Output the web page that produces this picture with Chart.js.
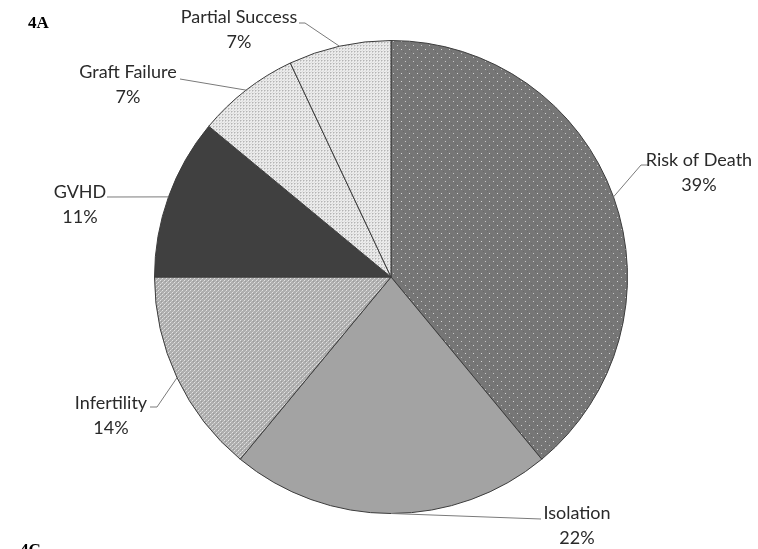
<!DOCTYPE html>
<html>
<head>
<meta charset="utf-8">
<script src="https://cdn.jsdelivr.net/npm/chart.js@4"></script>
<style>
  html, body { margin: 0; padding: 0; background: #ffffff; }
  #wrap { position: relative; width: 758px; height: 549px; }
  canvas { display: block; }
</style>
</head>
<body>
<div id="wrap"><canvas id="pie" width="758" height="549"></canvas></div>
<script>
// Reasons reported (share of responses, %)
const categories = ['Risk of Death', 'Isolation', 'Infertility', 'GVHD', 'Graft Failure', 'Partial Success'];
const shares = [39, 22, 14, 11, 7, 7];
const pctLabels = ['39%', '22%', '14%', '11%', '7%', '7%'];

// Small tiled fills in the style of an office-chart pattern fill
function tile(w, h, base, pixels) {
  const c = document.createElement('canvas');
  c.width = w; c.height = h;
  const g = c.getContext('2d');
  g.fillStyle = base; g.fillRect(0, 0, w, h);
  pixels.forEach(([x, y, col]) => { g.fillStyle = col; g.fillRect(x, y, 1, 1); });
  return g.createPattern(c, 'repeat');
}
const ctx0 = document.getElementById('pie').getContext('2d');
const fills = [
  // dark dotted
  tile(8, 8, '#767676', [[1, 1, '#d2d2d2'], [5, 5, '#c4c4c4'], [3, 3, '#6a6a6a'], [7, 7, '#6a6a6a']]),
  // solid mid grey
  '#a3a3a3',
  // light grey checker
  tile(4, 4, '#aeaeae', [[0, 0, '#e2e2e2'], [2, 2, '#e2e2e2'], [1, 3, '#c8c8c8'], [3, 1, '#c8c8c8'], [1, 1, '#9c9c9c']]),
  // dark solid
  '#404040',
  // very light fine grid
  tile(3, 3, '#ececec', [[0, 0, '#b4b4b4'], [1, 0, '#d0d0d0'], [0, 1, '#d0d0d0'], [2, 2, '#dedede']]),
  tile(3, 3, '#ececec', [[0, 0, '#b4b4b4'], [1, 0, '#d0d0d0'], [0, 1, '#d0d0d0'], [2, 2, '#dedede']])
];

// Text anchor and leader routing for each slice's outside label
const labelLayout = [
  { tx: 699, ty: 160, ex: 641, ey: 165, hx: 648 },
  { tx: 577, ty: 513, ex: 541, ey: 519, hx: 541 },
  { tx: 111, ty: 403, ex: 157, ey: 407, hx: 150 },
  { tx: 80,  ty: 192, ex: 107, ey: 197, hx: 107 },
  { tx: 128, ty: 72,  ex: 180, ey: 79,  hx: 180 },
  { tx: 239, ty: 17,  ex: 305, ey: 23,  hx: 299 }
];

const outsideLabels = {
  id: 'outsideLabels',
  afterDatasetsDraw(chart) {
    const ctx = chart.ctx;
    const meta = chart.getDatasetMeta(0);
    ctx.save();
    meta.data.forEach((arc, i) => {
      const p = arc.getProps(['x', 'y', 'startAngle', 'endAngle', 'outerRadius'], true);
      const mid = (p.startAngle + p.endAngle) / 2;
      const ax = p.x + Math.cos(mid) * p.outerRadius;
      const ay = p.y + Math.sin(mid) * p.outerRadius;
      const L = labelLayout[i];
      ctx.strokeStyle = '#7a7a7a';
      ctx.lineWidth = 1;
      ctx.beginPath();
      ctx.moveTo(ax, ay);
      ctx.lineTo(L.ex, L.ey);
      ctx.lineTo(L.hx, L.ey);
      ctx.stroke();
      ctx.fillStyle = '#2a2a2a';
      ctx.font = '18px Lato';
      ctx.textAlign = 'center';
      ctx.textBaseline = 'middle';
      ctx.fillText(categories[i], L.tx, L.ty);
      ctx.fillText(pctLabels[i], L.tx, L.ty + 25);
    });
    // panel letters
    ctx.fillStyle = '#000000';
    ctx.font = 'bold 17px "Liberation Serif"';
    ctx.textAlign = 'left';
    ctx.textBaseline = 'alphabetic';
    ctx.fillText('4A', 28, 28);
    ctx.fillText('4C', 20, 555);
    ctx.restore();
  }
};

new Chart(ctx0, {
  type: 'pie',
  data: {
    labels: categories,
    datasets: [{
      data: shares,
      backgroundColor: fills,
      borderColor: '#3c3c3c',
      borderWidth: 1
    }]
  },
  options: {
    responsive: false,
    devicePixelRatio: 1,
    animation: false,
    events: [],
    layout: { padding: { top: 40, bottom: 35, left: 154, right: 130 } },
    plugins: {
      legend: { display: false },
      tooltip: { enabled: false },
      title: { display: false }
    }
  },
  plugins: [outsideLabels]
});
</script>
</body>
</html>
